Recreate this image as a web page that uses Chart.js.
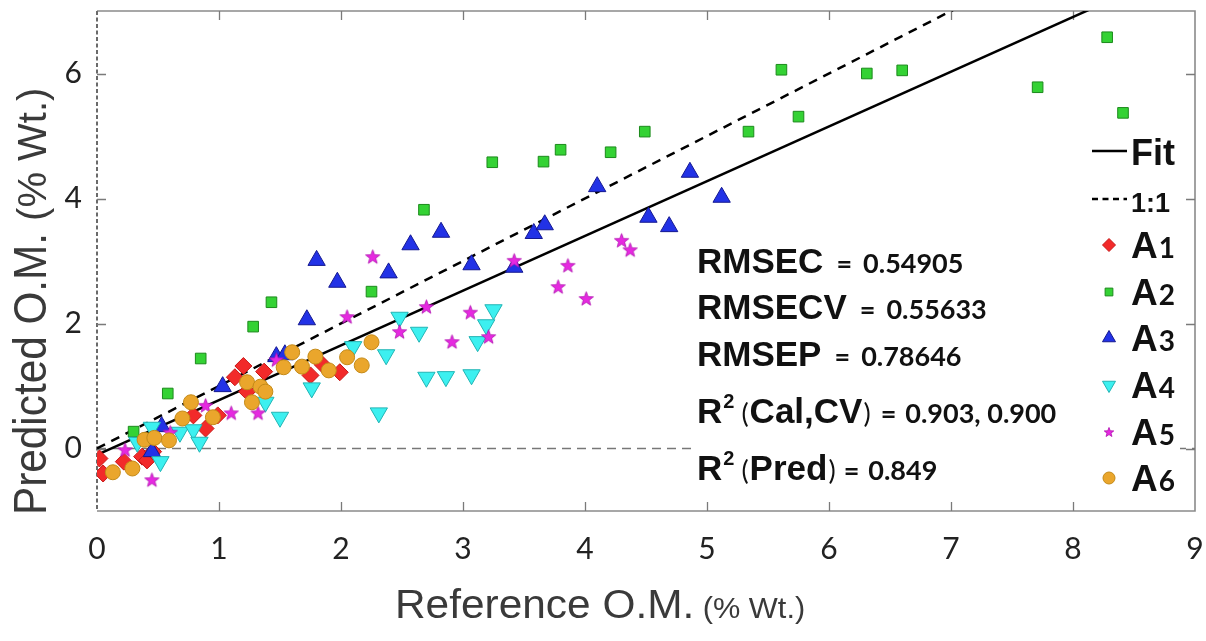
<!DOCTYPE html>
<html><head><meta charset="utf-8">
<script src="https://cdn.jsdelivr.net/npm/chart.js@4.4.1/dist/chart.umd.min.js"></script>
<style>html,body{margin:0;padding:0;background:#fff;overflow:hidden}canvas{display:block}</style>
</head><body>
<canvas id="c" width="1206" height="641"></canvas>
<script>
// ---- data ----
const xTicks = [0,1,2,3,4,5,6,7,8,9];
const yTicks = [0,2,4,6];

const a1X = [0.02,0.05,0.22,0.37,0.41,0.46,0.79,0.89,0.99,1.13,1.20,1.23,1.37,1.75,1.85,1.99];
const a1Y = [-0.16,-0.40,-0.21,-0.13,-0.19,-0.05,0.53,0.32,0.53,1.14,1.32,0.91,1.23,1.17,1.34,1.22];

const a2X = [0.30,0.58,0.85,1.28,1.43,2.25,2.68,3.24,3.66,3.80,4.21,4.49,5.34,5.61,5.75,6.31,6.60,7.71,8.28,8.41];
const a2Y = [0.27,0.88,1.44,1.95,2.34,2.51,3.82,4.58,4.59,4.78,4.74,5.07,5.07,6.06,5.31,6.00,6.05,5.78,6.58,5.37];

const a3X = [0.45,0.53,1.03,1.47,1.54,1.72,1.80,1.97,2.39,2.57,2.82,3.07,3.42,3.58,3.67,4.10,4.52,4.69,4.86,5.12];
const a3Y = [-0.05,0.35,0.99,1.47,1.50,2.06,3.01,2.66,2.81,3.26,3.46,2.94,2.90,3.44,3.58,4.19,3.70,3.55,4.42,4.02];

const a4X = [0.33,0.45,0.52,0.68,0.79,0.84,1.38,1.50,1.76,2.10,2.31,2.37,2.48,2.64,2.70,2.86,3.07,3.12,3.19,3.25];
const a4Y = [0.10,0.34,-0.21,0.26,0.30,0.10,0.74,0.50,0.97,1.63,0.57,1.50,2.10,1.86,1.14,1.15,1.18,1.71,1.98,2.22];

const a5X = [0.23,0.45,0.60,0.89,1.10,1.32,1.47,2.05,2.26,2.48,2.70,2.91,3.06,3.21,3.42,3.78,3.86,4.01,4.30,4.37];
const a5Y = [-0.02,-0.50,0.26,0.69,0.57,0.57,1.42,2.11,3.07,1.87,2.27,1.71,2.18,1.79,3.01,2.59,2.93,2.40,3.33,3.18];

const a6X = [0.13,0.29,0.39,0.47,0.59,0.70,0.77,0.95,1.23,1.27,1.34,1.38,1.53,1.60,1.68,1.79,1.90,2.05,2.17,2.25];
const a6Y = [-0.38,-0.32,0.14,0.17,0.13,0.48,0.74,0.50,1.06,0.74,0.99,0.91,1.30,1.54,1.31,1.47,1.25,1.46,1.33,1.70];

const fitX = [0, 9];
const fitY = [-0.10, 7.78];
const oneX = [0, 9];
const oneY = [0, 9];
const zeroX = [0, 9];
const zeroY = [0, 0];

const seriesNames = ['A1','A2','A3','A4','A5','A6'];
const statNames = ['RMSEC','RMSECV','RMSEP'];
const statValues = ['0.54905','0.55633','0.78646'];
const r2CalLabel = 'Cal,CV';
const r2CalValue = '0.903, 0.900';
const r2PredLabel = 'Pred';
const r2PredValue = '0.849';

// ---- helpers ----
const pts = (xs, ys) => xs.map((x, i) => ({x, y: ys[i]}));

function starCanvas(size, fill, stroke) {
  const c = document.createElement('canvas');
  c.width = size; c.height = size;
  const g = c.getContext('2d');
  const cx = size/2, cy = size/2 + size*0.04, R = size/2 - 1, r = R*0.42;
  g.beginPath();
  for (let i = 0; i < 10; i++) {
    const a = -Math.PI/2 + i*Math.PI/5;
    const rr = i % 2 ? r : R;
    g.lineTo(cx + rr*Math.cos(a), cy + rr*Math.sin(a));
  }
  g.closePath();
  g.fillStyle = fill; g.fill();
  g.lineWidth = 0.8; g.strokeStyle = stroke; g.stroke();
  return c;
}
const starBig = starCanvas(17, '#e629e0', '#b010b0');
const starSmall = starCanvas(12, '#e629e0', '#b010b0');

const styles = {
  A1: {fill:'#f22a2a', stroke:'#c81818', pointStyle:'rectRot', radius:8.5, rotation:0},
  A2: {fill:'#34d234', stroke:'#1c8a1c', pointStyle:'rect', radius:7.5, rotation:0},
  A3: {fill:'#2232e6', stroke:'#141890', pointStyle:'triangle', radius:10, rotation:0},
  A4: {fill:'#3cf0f0', stroke:'#22b4b4', pointStyle:'triangle', radius:10, rotation:180},
  A5: {fill:'#e629e0', stroke:'#b010b0', pointStyle:starBig, radius:8, rotation:0},
  A6: {fill:'#eaa62c', stroke:'#c48a18', pointStyle:'circle', radius:7.5, rotation:0}
};

function scatterSet(name, xs, ys) {
  const s = styles[name];
  return {
    label: name, type: 'scatter', data: pts(xs, ys),
    backgroundColor: s.fill, borderColor: s.stroke, borderWidth: 1,
    pointStyle: s.pointStyle, pointRadius: s.radius, pointRotation: s.rotation,
    pointHoverRadius: s.radius
  };
}
function lineSet(label, xs, ys, color, width, dash) {
  return {
    label, type: 'line', data: pts(xs, ys), borderColor: color, borderWidth: width,
    borderDash: dash, pointRadius: 0, fill: false, showLine: true, tension: 0
  };
}

function drawRuns(ctx, x, y, runs) {
  let cx = x;
  for (const r of runs) {
    cx += r.pre || 0;
    ctx.font = r.font;
    ctx.save();
    ctx.translate(cx, y + (r.dy || 0));
    ctx.scale(r.sx || 1, 1);
    ctx.fillText(r.t, 0, 0);
    ctx.restore();
    cx += ctx.measureText(r.t).width * (r.sx || 1);
  }
  return cx;
}

const F_BIG = 'bold 35px "Liberation Sans", Arial, sans-serif';
const F_VAL = 'bold 27px Lato, "Open Sans", sans-serif';
const F_SUP = 'bold 20px "Liberation Sans", Arial, sans-serif';
const F_PAR = '27px Lato, sans-serif';

const deco = {
  id: 'deco',
  beforeDatasetsDraw(chart) {
    const {ctx, chartArea: a, scales: {x, y}} = chart;
    ctx.save();
    ctx.strokeStyle = '#8a8a8a'; ctx.lineWidth = 1.6;
    ctx.beginPath();
    ctx.moveTo(a.left, a.top); ctx.lineTo(a.right, a.top); ctx.lineTo(a.right, a.bottom); ctx.lineTo(a.left, a.bottom);
    ctx.stroke();
    ctx.setLineDash([4, 2.5]); ctx.strokeStyle = '#6a6a6a'; ctx.lineWidth = 2;
    ctx.beginPath(); ctx.moveTo(x.getPixelForValue(0), a.top); ctx.lineTo(x.getPixelForValue(0), a.bottom); ctx.stroke();
    ctx.setLineDash([]);
    ctx.strokeStyle = '#7a7a7a'; ctx.lineWidth = 1.3;
    ctx.beginPath();
    for (const v of xTicks) {
      if (v === 0 || v === 9) continue;
      const px = Math.round(x.getPixelForValue(v)) + 0.5;
      ctx.moveTo(px, a.bottom); ctx.lineTo(px, a.bottom - 9);
      ctx.moveTo(px, a.top); ctx.lineTo(px, a.top + 9);
    }
    for (const v of yTicks) {
      const py = Math.round(y.getPixelForValue(v)) + 0.5;
      ctx.moveTo(a.left, py); ctx.lineTo(a.left + 9, py);
      ctx.moveTo(a.right, py); ctx.lineTo(a.right - 9, py);
    }
    ctx.stroke();
    ctx.restore();
  },
  afterDatasetsDraw(chart) {
    const {ctx} = chart;
    ctx.save();
    ctx.fillStyle = '#ffffff';
    ctx.fillRect(693, 238, 393, 258);
    ctx.fillRect(1086, 130, 94, 374);

    ctx.fillStyle = '#111'; ctx.textBaseline = 'alphabetic'; ctx.textAlign = 'left';
    const sx0 = 697;
    const baselines = [273, 319, 366];
    statNames.forEach((n, i) => {
      drawRuns(ctx, sx0, baselines[i], [
        {t: n, font: F_BIG},
        {t: '=', font: F_VAL, pre: 13},
        {t: statValues[i], font: F_VAL, pre: 11}
      ]);
    });
    drawRuns(ctx, sx0, 423, [
      {t: 'R', font: F_BIG},
      {t: '2', font: F_SUP, dy: -15, pre: 1},
      {t: '(', font: F_PAR, pre: 7},
      {t: r2CalLabel, font: F_BIG, pre: 1},
      {t: ')', font: F_PAR, pre: 1},
      {t: '=', font: F_VAL, pre: 10},
      {t: r2CalValue, font: F_VAL, pre: 9}
    ]);
    drawRuns(ctx, sx0, 480, [
      {t: 'R', font: F_BIG},
      {t: '2', font: F_SUP, dy: -15, pre: 1},
      {t: '(', font: F_PAR, pre: 7},
      {t: r2PredLabel, font: F_BIG, pre: 1},
      {t: ')', font: F_PAR, pre: 1},
      {t: '=', font: F_VAL, pre: 8},
      {t: r2PredValue, font: F_VAL, pre: 9}
    ]);

    const lx = 1092, tx = 1131;
    ctx.strokeStyle = '#000'; ctx.lineWidth = 2.5;
    ctx.beginPath(); ctx.moveTo(lx, 151); ctx.lineTo(1127, 151); ctx.stroke();
    ctx.setLineDash([6, 4.5]);
    ctx.beginPath(); ctx.moveTo(lx, 199); ctx.lineTo(1127, 199); ctx.stroke();
    ctx.setLineDash([]);
    ctx.fillStyle = '#111';
    drawRuns(ctx, tx, 165, [{t: 'Fit', font: 'bold 36px "Liberation Sans", Arial, sans-serif'}]);
    drawRuns(ctx, tx, 212, [{t: '1:1', font: 'bold 27px "Liberation Sans", Arial, sans-serif'}]);
    const rowsY = [245, 292, 338, 385, 432, 478];
    seriesNames.forEach((n, i) => {
      const s = styles[n];
      const cy = rowsY[i], cx = 1109;
      ctx.save();
      ctx.fillStyle = s.fill; ctx.strokeStyle = s.stroke; ctx.lineWidth = 1;
      if (n === 'A5') {
        ctx.drawImage(starSmall, cx - 6, cy - 6);
      } else {
        const r = {A1: 6.5, A2: 5.5, A3: 7.5, A4: 7.5, A6: 6}[n];
        Chart.helpers.drawPoint(ctx, {pointStyle: s.pointStyle, radius: r, rotation: s.rotation, borderWidth: 1}, cx, cy);
      }
      ctx.restore();
      ctx.fillStyle = '#111';
      drawRuns(ctx, tx, cy + 13, [
        {t: n.charAt(0), font: 'bold 37px "Liberation Sans", Arial, sans-serif'},
        {t: n.slice(1), font: 'bold 28px Lato, sans-serif', pre: 1}
      ]);
    });

    ctx.fillStyle = '#3a3a3a';
    ctx.save();
    const xt1 = 'Reference O.M.', xt2 = '(% Wt.)';
    ctx.font = '40px "Liberation Sans", Arial, sans-serif';
    ctx.translate(395, 618); ctx.scale(1.06, 1);
    ctx.fillText(xt1, 0, 0);
    const w1 = ctx.measureText(xt1).width;
    ctx.font = '29px "Liberation Sans", Arial, sans-serif';
    ctx.fillText(xt2, w1 + 8, 0);
    ctx.restore();
    ctx.save();
    const yt1 = 'Predicted O.M.', yt2 = '(% Wt.)';
    ctx.translate(46, 515); ctx.rotate(-Math.PI / 2);
    ctx.font = '47px "Liberation Sans", Arial, sans-serif';
    ctx.save(); ctx.scale(0.9, 1); ctx.fillText(yt1, 0, 0); ctx.restore();
    const w2 = ctx.measureText(yt1).width * 0.9;
    ctx.font = '40px "Liberation Sans", Arial, sans-serif';
    ctx.fillText(yt2, w2 + 12, 0);
    ctx.restore();
    ctx.restore();
  }
};

const datasets = [
  scatterSet('A6', a6X, a6Y),
  scatterSet('A5', a5X, a5Y),
  scatterSet('A4', a4X, a4Y),
  scatterSet('A3', a3X, a3Y),
  scatterSet('A2', a2X, a2Y),
  scatterSet('A1', a1X, a1Y),
  lineSet('Fit', fitX, fitY, '#000', 2.5, []),
  lineSet('1:1', oneX, oneY, '#000', 2.5, [9, 7]),
  lineSet('zero', zeroX, zeroY, '#777', 1.3, [9, 6])
];

new Chart(document.getElementById('c'), {
  type: 'scatter',
  data: {datasets},
  options: {
    responsive: false, animation: false, devicePixelRatio: 1,
    layout: {padding: {top: 10, right: 8, left: 0, bottom: 0}},
    plugins: {legend: {display: false}, tooltip: {enabled: false}},
    scales: {
      x: {
        type: 'linear', min: 0, max: 9,
        afterBuildTicks: s => { s.ticks = xTicks.map(v => ({value: v})); },
        grid: {display: false, drawTicks: false}, border: {display: false},
        ticks: {font: {family: 'Lato', size: 30}, color: '#222', padding: 20, maxRotation: 0, autoSkip: false},
        afterFit: s => { s.height = 130; s.paddingLeft = 0; s.paddingRight = 0; }
      },
      y: {
        type: 'linear', min: -1, max: 7,
        afterBuildTicks: s => { s.ticks = yTicks.map(v => ({value: v})); },
        grid: {display: false, drawTicks: false}, border: {display: false},
        ticks: {font: {family: 'Lato', size: 30}, color: '#222', padding: 15, autoSkip: false},
        afterFit: s => { s.width = 97; s.paddingTop = 0; s.paddingBottom = 0; }
      }
    }
  },
  plugins: [deco]
});
</script>
</body></html>
